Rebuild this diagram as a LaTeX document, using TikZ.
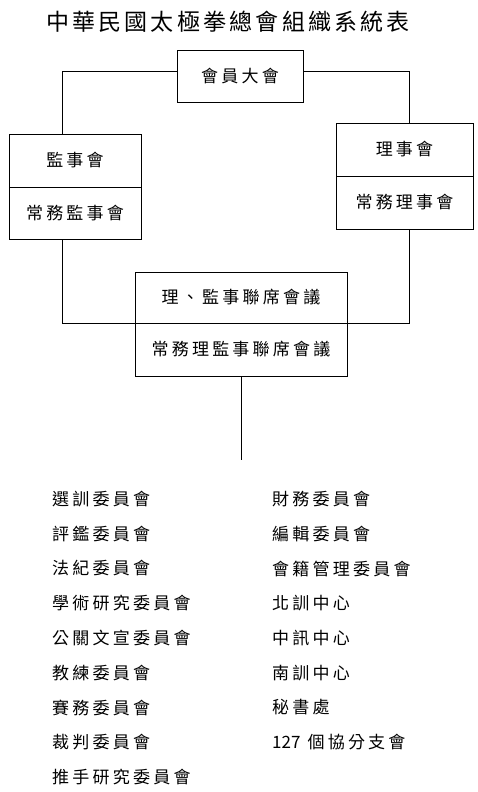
\documentclass[tikz,border=0pt]{standalone}
\usepackage{fontspec}
\usepackage{tikz}
\usetikzlibrary{positioning,calc}
\newfontfamily\cjk{Noto Sans CJK TC}[LetterSpace=19]
\newfontfamily\cjkhead{Noto Sans CJK TC}[LetterSpace=14]
\newfontfamily\cjkplain{Noto Sans CJK TC}

\begin{document}
\begin{tikzpicture}[x=1pt,y=-1pt,
    box/.style={draw,line width=0.8pt,minimum height=52pt,inner sep=0pt,font=\cjk\fontsize{17}{17}\selectfont},
    item/.style={anchor=west,inner sep=0pt,font=\cjk\fontsize{17}{17}\selectfont},
    link/.style={line width=0.8pt}
  ]
  \useasboundingbox (0,0) rectangle (478,792);
  \node[font=\cjkhead\fontsize{23}{23}\selectfont] (title) at (228,22) {中華民國太極拳總會組織系統表};
  % boxes
  \node[box,minimum width=126pt] (dh) at (240,76) {會員大會};
  \node[box,minimum width=132pt,minimum height=53pt] (js) at (75,160.5) {監事會};
  \node[box,minimum width=132pt] (cjs) at (75,213) {常務監事會};
  \node[box,minimum width=137pt,minimum height=53pt] (ls) at (404.5,149.5) {理事會};
  \node[box,minimum width=137pt,minimum height=53pt] (cls) at (404.5,202.5) {常務理事會};
  \node[box,minimum width=212pt,minimum height=51pt] (lj) at (241,297.5) {理、監事聯席會議};
  \node[box,minimum width=212pt,minimum height=53pt] (clj) at (241,349.5) {常務理監事聯席會議};
  % spines
  \coordinate (spL) at (62,0);
  \coordinate (spR) at (409,0);
  \coordinate (stem) at (241,460);
  \draw[link] ([yshift=5pt]dh.west) -| (js.north -| spL);
  \draw[link] ([yshift=5pt]dh.east) -| (ls.north -| spR);
  \draw[link] (cjs.south -| spL) |- (lj.south west);
  \draw[link] (cls.south -| spR) |- (lj.south east);
  \draw[link] (clj.south) -- (stem);
  % committees
  \foreach \lab [count=\i] in {選訓委員會,評鑑委員會,法紀委員會,學術研究委員會,公關文宣委員會,教練委員會,賽務委員會,裁判委員會,推手研究委員會}
    \node[item] (l\i) at (52,{499+34.75*(\i-1)}) {\lab};
  \foreach \lab [count=\i] in {財務委員會,編輯委員會,會籍管理委員會,北訓中心,中訊中心,南訓中心,秘書處,{{\cjkplain 127} 個協分支會}}
    \node[item] (r\i) at (272,{499+34.75*(\i-1)}) {\lab};
\end{tikzpicture}
\end{document}
